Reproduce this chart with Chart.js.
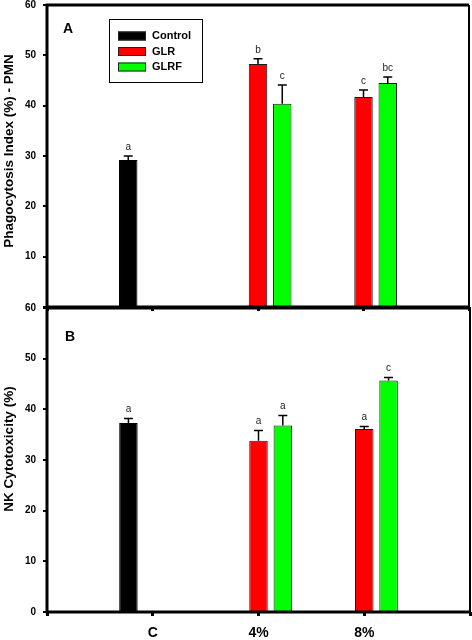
<!DOCTYPE html>
<html>
<head>
<meta charset="utf-8">
<script src="https://cdn.jsdelivr.net/npm/chart.js@4.4.1/dist/chart.umd.min.js"></script>
<style>
  html, body { margin: 0; padding: 0; background: #fff; }
  #wrap { position: relative; width: 472px; height: 640px; overflow: hidden; }
  canvas { position: absolute; left: 0; }
  #chartA { top: 0; }
  #chartB { top: 300px; }
</style>
</head>
<body>
<div id="wrap">
  <canvas id="chartA" width="472" height="320"></canvas>
  <canvas id="chartB" width="472" height="340"></canvas>
</div>
<script>
// categories (empty slots at both ends so C / 4% / 8% sit at 1, 2, 3)
const GROUPS = ['', 'C', '4%', '8%', ''];
const SERIES = ['Control', 'GLR', 'GLRF'];
const SERIES_COLORS = ['#000000', '#ff0000', '#00ff00'];
const Y_TICKS = [0, 10, 20, 30, 40, 50, 60];

// --- Panel A : Phagocytosis index ---
const phagoControl = [null, 29.2, null, null, null];
const phagoGLR     = [null, null, 48.3, 41.7, null];
const phagoGLRF    = [null, null, 40.4, 44.5, null];
const phagoControlErr = [null, 0.8, null, null, null];
const phagoGLRErr     = [null, null, 1.0, 1.4, null];
const phagoGLRFErr    = [null, null, 3.7, 1.2, null];
const phagoControlTag = [null, 'a', null, null, null];
const phagoGLRTag     = [null, null, 'b', 'c', null];
const phagoGLRFTag    = [null, null, 'c', 'bc', null];

// --- Panel B : NK cytotoxicity ---
const nkControl = [null, 37.3, null, null, null];
const nkGLR     = [null, null, 33.8, 36.1, null];
const nkGLRF    = [null, null, 36.8, 45.7, null];
const nkControlErr = [null, 0.9, null, null, null];
const nkGLRErr     = [null, null, 2.0, 0.5, null];
const nkGLRFErr    = [null, null, 2.0, 0.6, null];
const nkControlTag = [null, 'a', null, null, null];
const nkGLRTag     = [null, null, 'a', 'a', null];
const nkGLRFTag    = [null, null, 'a', 'c', null];

const FONT = 'Arial, "Liberation Sans", sans-serif';

function makeDatasets(values, errs, tags) {
    return SERIES.map((name, i) => ({
        label: name,
        data: values[i],
        errors: errs[i],
        tags: tags[i],
        backgroundColor: SERIES_COLORS[i],
        borderColor: i === 0 ? '#000' : '#1a1a1a',
        borderWidth: 1,
        borderSkipped: 'bottom',
        categoryPercentage: 0.69,
        barPercentage: 0.76
    }));
}

// frame round the plot area, panel letter and y title
const framePlugin = {
    id: 'frame',
    afterDatasetsDraw(chart, args, opts) {
        const { ctx, chartArea: a } = chart;
        ctx.save();
        ctx.strokeStyle = '#000';
        ctx.lineWidth = 3;
        ctx.beginPath();
        ctx.moveTo(a.left, a.top); ctx.lineTo(a.right, a.top);
        ctx.moveTo(a.left, a.top - 1.5); ctx.lineTo(a.left, a.bottom + 1.5);
        ctx.moveTo(a.left, a.bottom); ctx.lineTo(a.right, a.bottom);
        ctx.stroke();
        ctx.lineWidth = 2;
        ctx.beginPath();
        ctx.moveTo(a.right, a.top); ctx.lineTo(a.right, a.bottom);
        ctx.stroke();

        ctx.fillStyle = '#000';
        ctx.font = 'bold 14px ' + FONT;
        ctx.textAlign = 'center';
        ctx.textBaseline = 'middle';
        ctx.fillText(opts.tag, a.left + opts.dx, a.top + opts.dy);

        // y-axis title, a little above the middle like the original
        ctx.font = 'bold 13.5px ' + FONT;
        ctx.translate(9, (a.top + a.bottom) / 2 + opts.titleShift);
        ctx.rotate(-Math.PI / 2);
        ctx.fillText(opts.title, 0, 0);
        ctx.restore();
    }
};

// upper error bars and the letters above them
const errorPlugin = {
    id: 'errorBars',
    afterDatasetsDraw(chart) {
        const { ctx } = chart;
        const y = chart.scales.y;
        ctx.save();
        chart.data.datasets.forEach((ds, i) => {
            const meta = chart.getDatasetMeta(i);
            meta.data.forEach((bar, j) => {
                if (ds.data[j] == null) return;
                const yTop = y.getPixelForValue(ds.data[j] + ds.errors[j]);
                ctx.strokeStyle = '#000';
                ctx.lineWidth = 1.5;
                ctx.beginPath();
                ctx.moveTo(bar.x, bar.y);
                ctx.lineTo(bar.x, yTop);
                ctx.moveTo(bar.x - 4.5, yTop);
                ctx.lineTo(bar.x + 4.5, yTop);
                ctx.stroke();
                if (ds.tags[j]) {
                    ctx.fillStyle = '#222';
                    ctx.font = '10px ' + FONT;
                    ctx.textAlign = 'center';
                    ctx.textBaseline = 'bottom';
                    ctx.fillText(ds.tags[j], bar.x, yTop - 4);
                }
            });
        });
        ctx.restore();
    }
};

// boxed legend inside panel A
const boxLegendPlugin = {
    id: 'boxLegend',
    afterDatasetsDraw(chart, args, opts) {
        if (!opts.show) return;
        const { ctx, chartArea: a } = chart;
        const left = a.left + 62, top = a.top + 14;
        ctx.save();
        ctx.fillStyle = '#fff';
        ctx.fillRect(left, top, 93, 63);
        ctx.strokeStyle = '#000';
        ctx.lineWidth = 1;
        ctx.strokeRect(left + 0.5, top + 0.5, 93, 63);
        ctx.font = 'bold 11px ' + FONT;
        ctx.textBaseline = 'middle';
        chart.data.datasets.forEach((ds, i) => {
            const cy = top + 17 + i * 15.5;
            ctx.fillStyle = ds.backgroundColor;
            ctx.fillRect(left + 9, cy - 4.5, 28, 9);
            ctx.strokeStyle = '#222';
            ctx.strokeRect(left + 9.5, cy - 4, 27, 8);
            ctx.fillStyle = '#000';
            ctx.fillText(ds.label, left + 43, cy);
        });
        ctx.restore();
    }
};

function makeChart(id, datasets, cfg) {
    return new Chart(document.getElementById(id), {
        type: 'bar',
        data: { labels: GROUPS, datasets: datasets },
        plugins: [framePlugin, errorPlugin, boxLegendPlugin],
        options: {
            responsive: false,
            animation: false,
            layout: { padding: cfg.padding },
            plugins: {
                legend: { display: false },
                tooltip: { enabled: false },
                frame: { tag: cfg.tag, dx: cfg.tagDx, dy: cfg.tagDy, title: cfg.yTitle, titleShift: cfg.titleShift },
                boxLegend: { show: cfg.legend }
            },
            scales: {
                x: {
                    offset: false,
                    border: { display: false },
                    grid: { offset: false, drawOnChartArea: false, drawTicks: true, tickLength: 4, lineWidth: 3, color: '#000' },
                    ticks: {
                        display: cfg.xLabels,
                        autoSkip: false,
                        maxRotation: 0,
                        padding: 9,
                        color: '#000',
                        font: { family: FONT, size: 14, weight: 'bold' }
                    },
                    afterFit: s => { s.height = cfg.xHeight; s.paddingLeft = 0; s.paddingRight = 0; }
                },
                y: {
                    min: 0, max: 60,
                    border: { display: false },
                    grid: { drawOnChartArea: false, drawTicks: true, tickLength: 4, lineWidth: 2, color: '#000' },
                    afterBuildTicks: s => { s.ticks = Y_TICKS.map(v => ({ value: v })); },
                    ticks: {
                        padding: 7,
                        color: '#000',
                        font: { family: FONT, size: 10, weight: 'bold' },
                        callback: v => (cfg.hideZero && v === 0) ? '' : v
                    },
                    afterFit: s => { s.width = 47; s.paddingTop = 0; s.paddingBottom = 0; }
                }
            }
        }
    });
}

makeChart('chartA', makeDatasets([phagoControl, phagoGLR, phagoGLRF], [phagoControlErr, phagoGLRErr, phagoGLRFErr], [phagoControlTag, phagoGLRTag, phagoGLRFTag]), {
    padding: { top: 5, right: 3, left: 0, bottom: 0 },
    xHeight: 13, xLabels: false, hideZero: true, legend: true,
    tag: 'A', tagDx: 21, tagDy: 24,
    yTitle: 'Phagocytosis Index (%) - PMN', titleShift: -5
});

makeChart('chartB', makeDatasets([nkControl, nkGLR, nkGLRF], [nkControlErr, nkGLRErr, nkGLRFErr], [nkControlTag, nkGLRTag, nkGLRFTag]), {
    padding: { top: 8, right: 2, left: 0, bottom: 0 },
    xHeight: 28, xLabels: true, hideZero: false, legend: false,
    tag: 'B', tagDx: 23, tagDy: 29,
    yTitle: 'NK Cytotoxicity (%)', titleShift: -11
});
</script>
</body>
</html>
